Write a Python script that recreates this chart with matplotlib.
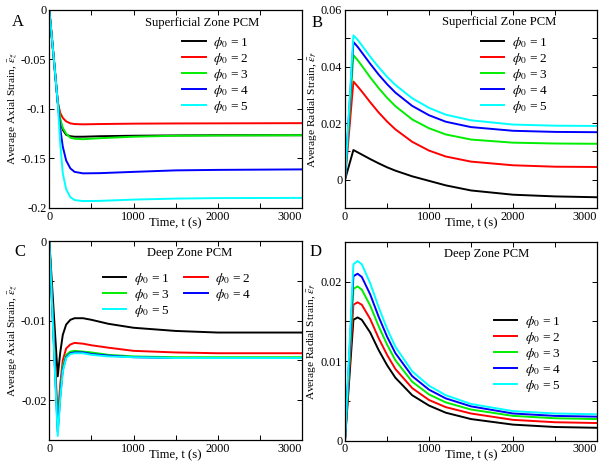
import matplotlib
matplotlib.use("Agg")
import matplotlib.pyplot as plt
from matplotlib.ticker import MultipleLocator, FixedLocator, FuncFormatter

plt.rcParams['font.family'] = ['Liberation Serif', 'DejaVu Serif']
plt.rcParams['mathtext.fontset'] = 'stix'
plt.rcParams['axes.unicode_minus'] = False

phi_labels = [r'$\phi_0$ = 1', r'$\phi_0$ = 2', r'$\phi_0$ = 3', r'$\phi_0$ = 4', r'$\phi_0$ = 5']
colors = ['#000000', '#ff0000', '#00ee00', '#0000ff', '#00ffff']

# Panel A: superficial zone, axial strain
tA = [0, 50, 100, 130, 160, 200, 250, 300, 400, 600, 1000, 1500, 2000, 3000]
A1 = [0, -0.046, -0.093, -0.112, -0.121, -0.126, -0.1275, -0.128, -0.128, -0.1275, -0.127, -0.1267, -0.1265, -0.1265]
A2 = [0, -0.046, -0.093, -0.104, -0.109, -0.1125, -0.1145, -0.1152, -0.1155, -0.1152, -0.1148, -0.1146, -0.1145, -0.1143]
A3 = [0, -0.046, -0.093, -0.110, -0.119, -0.125, -0.129, -0.130, -0.1305, -0.1295, -0.128, -0.127, -0.1268, -0.1265]
A4 = [0, -0.046, -0.093, -0.120, -0.138, -0.152, -0.160, -0.1635, -0.165, -0.1648, -0.1635, -0.162, -0.1615, -0.161]
A5 = [0, -0.046, -0.093, -0.135, -0.165, -0.181, -0.189, -0.192, -0.193, -0.1928, -0.1915, -0.1905, -0.190, -0.1898]

# Panel B: superficial zone, radial strain
tB = [0, 100, 150, 200, 300, 400, 500, 600, 800, 1000, 1200, 1500, 2000, 2500, 3000]
B1 = [0, 0.0105, 0.0097, 0.0089, 0.0073, 0.0058, 0.0044, 0.0032, 0.0012, -0.0004, -0.0020, -0.0038, -0.0053, -0.0059, -0.0062]
B2 = [0, 0.0347, 0.0330, 0.0312, 0.0274, 0.0238, 0.0206, 0.0178, 0.0134, 0.0103, 0.0082, 0.0064, 0.0051, 0.0046, 0.0045]
B3 = [0, 0.0440, 0.0423, 0.0403, 0.0362, 0.0324, 0.0290, 0.0260, 0.0213, 0.0182, 0.0160, 0.0142, 0.0131, 0.0128, 0.0127]
B4 = [0, 0.0487, 0.0470, 0.0450, 0.0410, 0.0372, 0.0338, 0.0308, 0.0261, 0.0228, 0.0205, 0.0186, 0.0173, 0.0169, 0.0168]
B5 = [0, 0.0510, 0.0495, 0.0475, 0.0435, 0.0398, 0.0364, 0.0335, 0.0288, 0.0254, 0.0230, 0.0210, 0.0195, 0.0191, 0.0190]

# Panel C: deep zone, axial strain
tC = [0, 100, 130, 160, 200, 250, 300, 400, 500, 700, 1000, 1500, 2000, 3000]
C1 = [0, -0.0170, -0.0140, -0.0118, -0.0105, -0.0099, -0.0097, -0.0097, -0.0099, -0.0104, -0.0109, -0.0113, -0.0115, -0.0115]
C2 = [0, -0.0222, -0.0180, -0.0150, -0.0135, -0.0130, -0.0128, -0.0129, -0.0131, -0.0134, -0.0138, -0.0140, -0.0141, -0.0141]
C3 = [0, -0.0233, -0.0190, -0.0158, -0.0143, -0.0139, -0.0138, -0.0139, -0.0140, -0.0143, -0.0145, -0.0146, -0.0146, -0.0146]
C4 = [0, -0.0240, -0.0195, -0.0162, -0.0146, -0.0141, -0.0140, -0.0140, -0.0142, -0.0144, -0.0146, -0.0147, -0.0147, -0.0147]
C5 = [0, -0.0245, -0.0198, -0.0164, -0.0147, -0.0142, -0.0141, -0.0141, -0.0143, -0.0145, -0.0146, -0.0147, -0.0147, -0.0147]

# Panel D: deep zone, radial strain
tD = [0, 100, 150, 200, 300, 400, 500, 600, 800, 1000, 1200, 1500, 2000, 2500, 3000]
D1 = [0, 0.0152, 0.0155, 0.0152, 0.0136, 0.0114, 0.0095, 0.0079, 0.0057, 0.0044, 0.0035, 0.0027, 0.0020, 0.0017, 0.0016]
D2 = [0, 0.0171, 0.0174, 0.0171, 0.0153, 0.0129, 0.0108, 0.0090, 0.0066, 0.0051, 0.0042, 0.0034, 0.0026, 0.0023, 0.0022]
D3 = [0, 0.0191, 0.0194, 0.0190, 0.0170, 0.0144, 0.0121, 0.0101, 0.0074, 0.0058, 0.0048, 0.0039, 0.0031, 0.0028, 0.0027]
D4 = [0, 0.0207, 0.0210, 0.0206, 0.0184, 0.0156, 0.0131, 0.0110, 0.0081, 0.0064, 0.0053, 0.0043, 0.0034, 0.0031, 0.0030]
D5 = [0, 0.0222, 0.0226, 0.0222, 0.0198, 0.0168, 0.0141, 0.0118, 0.0087, 0.0069, 0.0057, 0.0046, 0.0037, 0.0034, 0.0033]

W, H = 608, 476
fig = plt.figure(figsize=(W / 100, H / 100), dpi=100)


def make_axes(l, r, t, b):
    return fig.add_axes([l / W, 1 - b / H, (r - l) / W, (b - t) / H])


FS = 8.8
fmt = FuncFormatter(lambda v, p: '%g' % round(v, 6))

panels = [
    dict(box=(49.3, 302, 10, 208), t=tA, ys=[A1, A2, A3, A4, A5], ylim=(-0.2, 0), ymaj=0.05, ymin=0.05,
         ylabel=r'Average Axial Strain, $\bar{\varepsilon}_{\tilde{z}}$', ylx=-0.142, letter='A', lpos=(18, 22),
         title='Superficial Zone PCM', tpos=(0.605, 0.934), leg=dict(anchor=(0.526, 0.874), ncol=1, order=[0, 1, 2, 3, 4])),
    dict(box=(345, 597, 10, 208), t=tB, ys=[B1, B2, B3, B4, B5], ylim=(-0.01, 0.06), ymaj=0.02, ymin=0.01,
         ylabel=r'Average Radial Strain, $\bar{\varepsilon}_{\tilde{r}}$', ylx=-0.127, letter='B', lpos=(317, 23),
         title='Superficial Zone PCM', tpos=(0.611, 0.937), leg=dict(anchor=(0.54, 0.874), ncol=1, order=[0, 1, 2, 3, 4])),
    dict(box=(49.3, 302, 241, 440), t=tC, ys=[C1, C2, C3, C4, C5], ylim=(-0.025, 0), ymaj=0.01, ymin=0.005,
         ylabel=r'Average Axial Strain, $\bar{\varepsilon}_{\tilde{z}}$', ylx=-0.14, letter='C', lpos=(20, 252),
         title='Deep Zone PCM', tpos=(0.557, 0.939), leg=dict(anchor=(0.213, 0.85), ncol=2, order=[0, 2, 4, 1, 3])),
    dict(box=(345, 597, 242, 440.5), t=tD, ys=[D1, D2, D3, D4, D5], ylim=(0, 0.025), ymaj=0.01, ymin=0.005,
         ylabel=r'Average Radial Strain, $\bar{\varepsilon}_{\tilde{r}}$', ylx=-0.13, letter='D', lpos=(316, 252),
         title='Deep Zone PCM', tpos=(0.561, 0.939), leg=dict(anchor=(0.591, 0.637), ncol=1, order=[0, 1, 2, 3, 4])),
]

for p in panels:
    ax = make_axes(*p['box'])
    handles = []
    for y, c, lab in zip(p['ys'], colors, phi_labels):
        h, = ax.plot(p['t'], y, color=c, lw=1.4, label=lab)
        handles.append(h)
    ax.set_xlim(0, 3000)
    ax.set_ylim(*p['ylim'])
    ax.xaxis.set_major_locator(FixedLocator([0, 1000, 2000, 3000]))
    ax.xaxis.set_minor_locator(MultipleLocator(500))
    ax.yaxis.set_major_locator(MultipleLocator(p['ymaj']))
    ax.yaxis.set_minor_locator(MultipleLocator(p['ymin']))
    ax.yaxis.set_major_formatter(fmt)
    ax.tick_params(which='both', direction='in', top=True, right=True, length=3.5, width=0.7,
                   labelsize=FS, pad=2)
    for s in ax.spines.values():
        s.set_linewidth(0.9)
    ax.set_xlabel('Time, t (s)', fontsize=FS + 0.3)
    ax.xaxis.set_label_coords(0.5, -0.045)
    ax.xaxis.label.set_va('top')
    ax.set_ylabel(p['ylabel'], fontsize=8.2)
    ax.yaxis.set_label_coords(p['ylx'], 0.5)
    ax.yaxis.label.set_va('center')
    labs = ax.get_xticklabels()
    labs[-1].set_ha('right')
    ax.text(*p['tpos'], p['title'], transform=ax.transAxes, ha='center', va='center', fontsize=FS + 0.3)
    fig.text(p['lpos'][0] / W, 1 - p['lpos'][1] / H, p['letter'], ha='center', va='center', fontsize=12)
    lg = p['leg']
    hs = [handles[i] for i in lg['order']]
    ls = [phi_labels[i] for i in lg['order']]
    ax.legend(hs, ls, loc='upper left', bbox_to_anchor=lg['anchor'], ncol=lg['ncol'], frameon=False,
              fontsize=9.6, borderpad=0, borderaxespad=0, handlelength=1.75, handletextpad=0.55,
              labelspacing=0.0, columnspacing=1.1)

fig.savefig('out.png', dpi=100)
